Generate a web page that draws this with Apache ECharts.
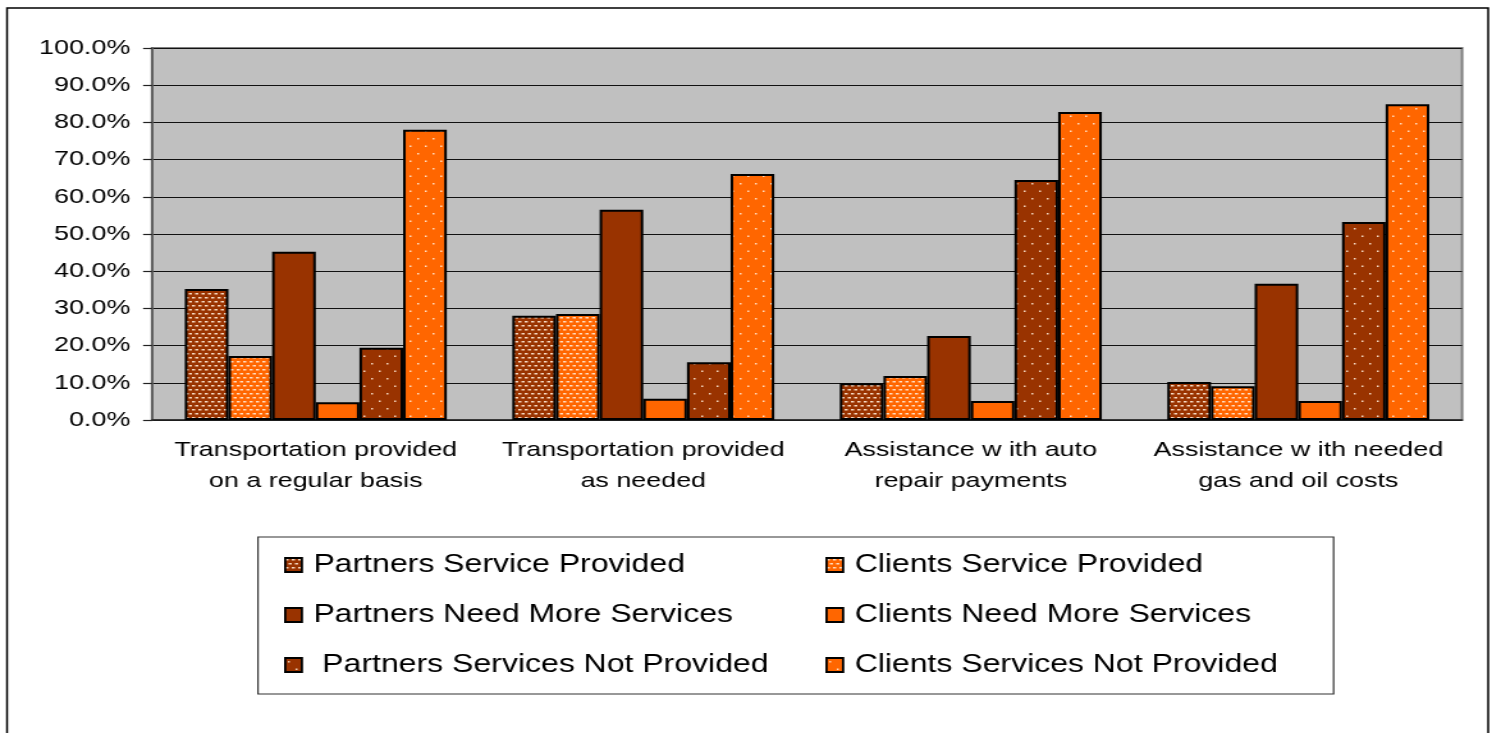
<!DOCTYPE html>
<html>
<head>
<meta charset="utf-8">
<script src="https://cdn.jsdelivr.net/npm/echarts@6/dist/echarts.min.js"></script>
<style>
  html, body { margin: 0; padding: 0; background: #fff; overflow: hidden; }
  /* the source chart is stretched sideways, so draw narrow and scale */
  #main { width: 1166px; height: 733px; transform: scaleX(1.2796); transform-origin: 0 0; }
</style>
</head>
<body>
<div id="main"></div>
<script>
var categories = [
    'Transportation provided\non a regular basis',
    'Transportation provided\nas needed',
    'Assistance w ith auto\nrepair payments',
    'Assistance w ith needed\ngas and oil costs'
];
var partnersProvided = [35.2, 28.0, 9.9, 10.2];
var clientsProvided = [17.2, 28.5, 11.8, 9.1];
var partnersNeedMore = [45.2, 56.5, 22.6, 36.6];
var clientsNeedMore = [4.8, 5.7, 5.1, 5.1];
var partnersNotProvided = [19.4, 15.5, 64.5, 53.2];
var clientsNotProvided = [78.0, 66.1, 82.8, 84.9];
var yTicks = [0, 10, 20, 30, 40, 50, 60, 70, 80, 90, 100];

var BROWN = '#993300';
var ORANGE = '#FF6600';
var FONT = '"Liberation Sans", Arial, sans-serif';

// small repeating tiles for the hatched bars
function dashTile(bg) {
    var c = document.createElement('canvas');
    c.width = 5; c.height = 8;
    var ctx = c.getContext('2d');
    ctx.fillStyle = bg;
    ctx.fillRect(0, 0, 5, 8);
    ctx.fillStyle = 'rgba(255,235,215,0.9)';
    ctx.fillRect(0, 1, 2.5, 1.5);
    ctx.fillRect(2.5, 5, 2.5, 1.5);
    return { image: c, repeat: 'repeat' };
}

function dotTile(bg) {
    var c = document.createElement('canvas');
    c.width = 12; c.height = 15;
    var ctx = c.getContext('2d');
    ctx.fillStyle = bg;
    ctx.fillRect(0, 0, 12, 15);
    ctx.fillStyle = 'rgba(255,235,215,0.9)';
    ctx.fillRect(2, 3, 1.5, 1.5);
    ctx.fillRect(8, 10.5, 1.5, 1.5);
    return { image: c, repeat: 'repeat' };
}

function bar(name, data, color) {
    return {
        name: name,
        type: 'bar',
        data: data,
        barGap: '0%',
        barCategoryGap: '20%',
        itemStyle: { color: color, borderColor: '#000', borderWidth: 2 }
    };
}

var legendBase = {
    orient: 'vertical',
    top: 547.5,
    itemWidth: 13,
    itemHeight: 14,
    itemGap: 25,
    icon: 'rect',
    selectedMode: false,
    itemStyle: { borderColor: '#000', borderWidth: 1.8 },
    textStyle: { fontFamily: FONT, fontSize: 25, color: '#000', padding: [0, 0, 0, 4] }
};

var myChart = echarts.init(document.getElementById('main'));
var option = {
    backgroundColor: '#fff',
    animation: false,
    grid: {
        left: 118.8, right: 23.4, top: 48, bottom: 313,
        show: true, backgroundColor: '#C0C0C0', borderColor: '#808080', borderWidth: 2
    },
    graphic: [
        { type: 'rect', shape: { x: 5.5, y: 8, width: 1157.5, height: 740 },
          style: { fill: 'none', stroke: '#000', lineWidth: 1.5 }, silent: true },
        { type: 'rect', shape: { x: 201.6, y: 537, width: 840.6, height: 157 },
          style: { fill: 'none', stroke: '#333', lineWidth: 1.2 }, silent: true }
    ],
    legend: [
        Object.assign({}, legendBase, {
            left: 217,
            data: ['Partners Service Provided', 'Partners Need More Services', ' Partners Services Not Provided']
        }),
        Object.assign({}, legendBase, {
            left: 640,
            data: ['Clients Service Provided', 'Clients Need More Services', 'Clients Services Not Provided']
        })
    ],
    xAxis: {
        type: 'category',
        data: categories,
        axisLine: { lineStyle: { color: '#222', width: 1.5 } },
        axisTick: { length: 7, lineStyle: { color: '#222', width: 1.2 } },
        axisLabel: { interval: 0, fontFamily: FONT, fontSize: 21, color: '#000', lineHeight: 31, margin: 15 }
    },
    yAxis: {
        type: 'value',
        min: yTicks[0],
        max: yTicks[yTicks.length - 1],
        interval: yTicks[1] - yTicks[0],
        axisLine: { show: true, lineStyle: { color: '#606060', width: 2 } },
        axisTick: { show: true, length: 7, lineStyle: { color: '#222', width: 1.2 } },
        splitLine: { lineStyle: { color: '#111', width: 1.2 } },
        axisLabel: {
            fontFamily: FONT, fontSize: 21, color: '#000', margin: 17,
            formatter: function (v) { return v.toFixed(1) + '%'; }
        }
    },
    series: [
        bar('Partners Service Provided', partnersProvided, dashTile(BROWN)),
        bar('Clients Service Provided', clientsProvided, dashTile(ORANGE)),
        bar('Partners Need More Services', partnersNeedMore, BROWN),
        bar('Clients Need More Services', clientsNeedMore, ORANGE),
        bar(' Partners Services Not Provided', partnersNotProvided, dotTile(BROWN)),
        bar('Clients Services Not Provided', clientsNotProvided, dotTile(ORANGE))
    ]
};
myChart.setOption(option);
</script>
</body>
</html>
